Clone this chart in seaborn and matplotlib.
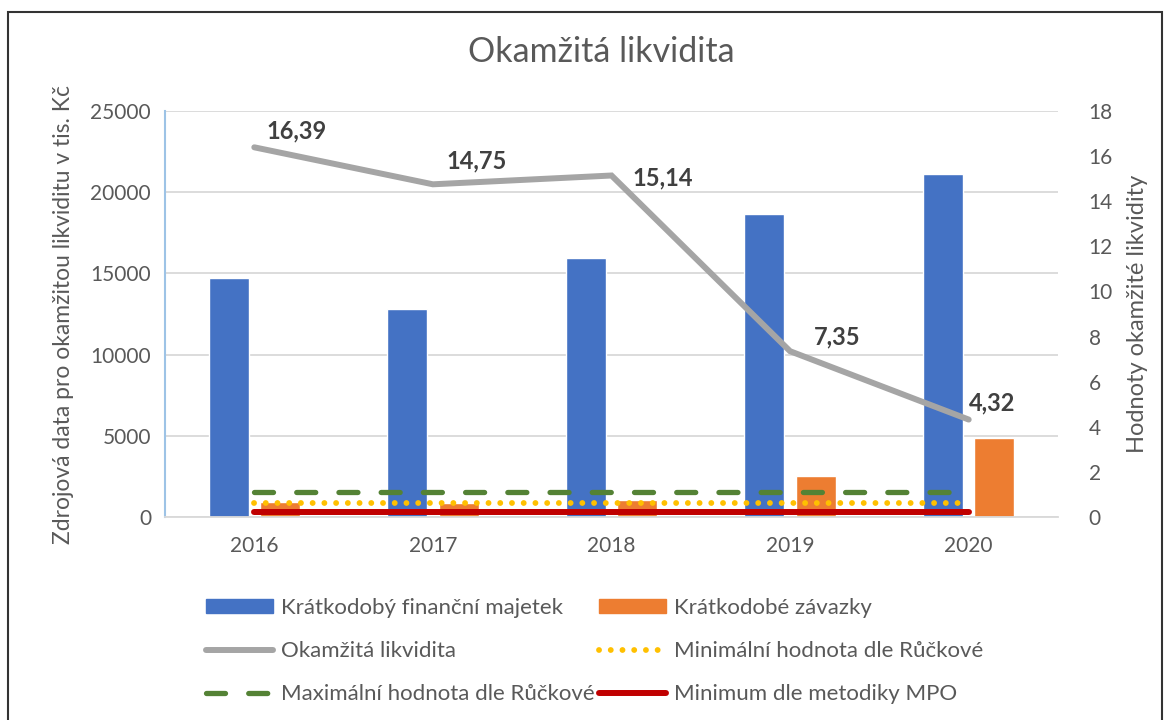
import numpy as np
import pandas as pd
import matplotlib.pyplot as plt
import seaborn as sns
from matplotlib.patches import Patch, Rectangle
from matplotlib.lines import Line2D

# data
years = ['2016', '2017', '2018', '2019', '2020']
financni_majetek = [14700, 12800, 15950, 18650, 21120]
kratkodobe_zavazky = [897, 868, 1053, 2538, 4889]
okamzita_likvidita = [16.39, 14.75, 15.14, 7.35, 4.32]
min_ruckova = [0.6, 0.6, 0.6, 0.6, 0.6]
max_ruckova = [1.1, 1.1, 1.1, 1.1, 1.1]
min_mpo = [0.2, 0.2, 0.2, 0.2, 0.2]

bar_labels = ['Krátkodobý finanční majetek', 'Krátkodobé závazky']

df = pd.DataFrame({
    'Rok': years * 2,
    'Hodnota': financni_majetek + kratkodobe_zavazky,
    'Serie': [bar_labels[0]] * 5 + [bar_labels[1]] * 5,
})

sns.set_theme(style='white')
plt.rcParams['font.family'] = ['Lato', 'DejaVu Sans']

BLUE = '#4472C4'
ORANGE = '#ED7D31'
GRAY = '#A5A5A5'
YELLOW = '#FFC000'
GREEN = '#548235'
RED = '#C00000'
TXT = '#595959'

fig = plt.figure(figsize=(11.69, 7.2), dpi=100)
W, H = 1169, 720
ax = fig.add_axes([165 / W, (H - 517) / H, (1058 - 165) / W, (517 - 111) / H])

sns.barplot(data=df, x='Rok', y='Hodnota', hue='Serie', order=years,
            palette=[BLUE, ORANGE], saturation=1, width=0.575, gap=0.22, ax=ax,
            legend=False, zorder=2)
ax.set_xlim(-0.5, 4.5)
ax.set_ylim(0, 25000)
ax.set_yticks(np.arange(0, 25001, 5000))
ax.yaxis.grid(True, color='#D9D9D9', linewidth=1.3, zorder=0)
ax.set_axisbelow(True)
ax.set_xlabel('')
ax.set_ylabel('Zdrojová data pro okamžitou likviditu v tis. Kč', fontsize=16.5, color=TXT, labelpad=12)
ax.tick_params(axis='both', length=0, labelsize=15, labelcolor=TXT, pad=10)
ax.tick_params(axis='x', pad=14)
for s in ['top', 'right']:
    ax.spines[s].set_visible(False)
ax.spines['bottom'].set_color('#D9D9D9')
ax.spines['bottom'].set_linewidth(1.3)
ax.spines['left'].set_color('#9DC3E6')
ax.spines['left'].set_linewidth(1.5)

ax2 = ax.twinx()
xpos = np.arange(len(years))
sns.lineplot(x=xpos, y=max_ruckova, ax=ax2, color=GREEN, linewidth=3.8,
             linestyle=(0, (3.6, 4.4)), dash_capstyle='round')
sns.lineplot(x=xpos, y=min_ruckova, ax=ax2, color=YELLOW, linewidth=4.2,
             linestyle=(0, (0.01, 2.0)), dash_capstyle='round')
sns.lineplot(x=xpos, y=min_mpo, ax=ax2, color=RED, linewidth=4.3,
             solid_capstyle='round')
sns.lineplot(x=xpos, y=okamzita_likvidita, ax=ax2, color=GRAY, linewidth=4.3,
             solid_capstyle='round', solid_joinstyle='miter')
ax2.set_ylim(0, 18)
ax2.set_yticks(np.arange(0, 19, 2))
ax2.set_ylabel('Hodnoty okamžité likvidity', fontsize=17, color=TXT, labelpad=10)
ax2.tick_params(axis='y', length=0, labelsize=15, labelcolor=TXT, pad=22)
for s in ax2.spines.values():
    s.set_visible(False)

# data labels (offsets in pixels)
label_offsets = [(42, 16), (44, 23), (51, -2), (47, 14), (23, 17)]
for x, v, off in zip(xpos, okamzita_likvidita, label_offsets):
    ax2.annotate(f'{v:.2f}'.replace('.', ','), (x, v), xytext=off, textcoords='offset pixels',
                 ha='center', va='center', fontsize=17, fontweight='bold', color='#404040')

fig.text(601 / W, 1 - 52 / H, 'Okamžitá likvidita', ha='center', va='center',
         fontsize=24.5, color=TXT)

handles = [
    Patch(facecolor=BLUE, edgecolor=BLUE),
    Line2D([], [], color=GRAY, linewidth=4.3, solid_capstyle='round'),
    Line2D([], [], color=GREEN, linewidth=3.8, linestyle=(0, (3.6, 4.4)), dash_capstyle='round'),
    Patch(facecolor=ORANGE, edgecolor=ORANGE),
    Line2D([], [], color=YELLOW, linewidth=4.2, linestyle=(0, (0.01, 2.0)), dash_capstyle='round'),
    Line2D([], [], color=RED, linewidth=4.3, solid_capstyle='round'),
]
labels = [bar_labels[0], 'Okamžitá likvidita', 'Maximální hodnota dle Růčkové',
          bar_labels[1], 'Minimální hodnota dle Růčkové', 'Minimum dle metodiky MPO']
leg = fig.legend(handles, labels, ncol=2, loc='upper left',
                 bbox_to_anchor=(186 / W, 1 - 578 / H), frameon=False,
                 fontsize=16, handlelength=3.0, handletextpad=0.36,
                 columnspacing=0.22, labelspacing=1.04, handleheight=0.6)
for t in leg.get_texts():
    t.set_color(TXT)

fig.add_artist(Rectangle((8 / W, -0.01), (1162 - 8) / W, 1.01 - 12 / H, transform=fig.transFigure,
                         fill=False, edgecolor='#333333', linewidth=1.5))

fig.savefig('out.png', dpi=100)
